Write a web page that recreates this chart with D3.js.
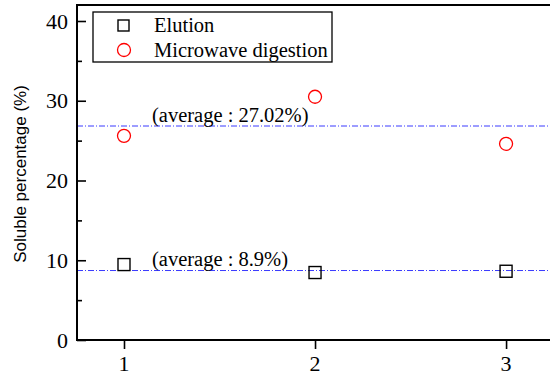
<!DOCTYPE html>
<html>
<head>
<meta charset="utf-8">
<script src="https://cdn.jsdelivr.net/npm/d3@7"></script>
<style>
  body { margin: 0; background: #fff; }
  svg { display: block; }
  .tick-label { font-family: "Liberation Serif", "Times New Roman", serif; font-size: 22px; fill: #000; }
  .legend-text, .avg-text { font-family: "Liberation Serif", "Times New Roman", serif; font-size: 20.5px; fill: #000; }
  .y-title { font-family: "Liberation Sans", Arial, sans-serif; font-size: 17px; fill: #000; }
</style>
</head>
<body>
<svg id="chart" width="550" height="374"></svg>
<script>
const runs = [1, 2, 3];
const elution = [9.46, 8.46, 8.62];
const microwave = [25.6, 30.5, 24.6];
const averages = [
  { value: 27.02, label: "(average : 27.02%)" },
  { value: 8.9, label: "(average : 8.9%)" },
];
const yTicks = [0, 10, 20, 30, 40];
const yMinor = [5, 15, 25, 35];
const xTicks = [1, 2, 3];

const svg = d3.select("#chart");
const margin = { left: 77, top: 5, right: 0, bottom: 34 };
const width = 550;
const height = 374;

const x = d3.scaleLinear().domain([0.754, 3.23]).range([margin.left, width]);
const y = d3.scaleLinear().domain([0, 42]).range([height - margin.bottom, height - margin.bottom - 42 * 7.975]);

const plot = svg.append("g");

// average lines with their labels
averages.forEach((a) => {
  plot.append("line")
    .attr("x1", margin.left).attr("x2", width)
    .attr("y1", y(a.value) + 1.5).attr("y2", y(a.value) + 1.5)
    .attr("stroke", "#3a3aff").attr("stroke-width", 1)
    .attr("stroke-dasharray", "6,2,1,2");
  plot.append("text")
    .attr("class", "avg-text")
    .attr("x", 152).attr("y", y(a.value) - 3)
    .text(a.label);
});

// axes: y ticks point inward, x ticks outward
const yAxis = d3.axisLeft(y).tickValues(yTicks).tickSize(-9).tickFormat("");
const yAxisMinor = d3.axisLeft(y).tickValues(yMinor).tickSize(-5).tickFormat("");
const xAxis = d3.axisBottom(x).tickValues(xTicks).tickSize(9).tickFormat("");

svg.append("g").attr("transform", `translate(${margin.left},0)`).call(yAxis);
svg.append("g").attr("transform", `translate(${margin.left},0)`).call(yAxisMinor);
svg.append("g").attr("transform", `translate(0,${y(0)})`).call(xAxis);
svg.selectAll(".domain").remove();
svg.selectAll(".tick line").attr("stroke", "#000").attr("stroke-width", 1.6);

// frame
svg.append("line").attr("x1", margin.left).attr("x2", margin.left)
  .attr("y1", margin.top).attr("y2", y(0) + 1)
  .attr("stroke", "#000").attr("stroke-width", 2);
svg.append("line").attr("x1", margin.left - 1).attr("x2", width)
  .attr("y1", y(0)).attr("y2", y(0))
  .attr("stroke", "#000").attr("stroke-width", 2);
svg.append("line").attr("x1", margin.left - 1).attr("x2", width)
  .attr("y1", margin.top).attr("y2", margin.top)
  .attr("stroke", "#000").attr("stroke-width", 2);

// tick labels
yTicks.forEach((t) => {
  svg.append("text").attr("class", "tick-label")
    .attr("x", 68).attr("y", y(t) + 7.5)
    .attr("text-anchor", "end").text(t);
});
xTicks.forEach((t) => {
  svg.append("text").attr("class", "tick-label")
    .attr("x", x(t)).attr("y", y(0) + 31)
    .attr("text-anchor", "middle").text(t);
});

// y title
svg.append("text").attr("class", "y-title")
  .attr("transform", `translate(26,174) rotate(-90)`)
  .attr("text-anchor", "middle")
  .text("Soluble percentage (%)");

// markers
svg.append("g").selectAll("rect").data(elution).join("rect")
  .attr("x", (d, i) => x(runs[i]) - 6).attr("y", (d) => y(d) - 6)
  .attr("width", 12).attr("height", 12)
  .attr("fill", "none").attr("stroke", "#000").attr("stroke-width", 1.4);
svg.append("g").selectAll("circle").data(microwave).join("circle")
  .attr("cx", (d, i) => x(runs[i])).attr("cy", (d) => y(d))
  .attr("r", 6.5)
  .attr("fill", "none").attr("stroke", "#f00").attr("stroke-width", 1.3);

// legend
const lg = svg.append("g");
lg.append("rect").attr("x", 93).attr("y", 12).attr("width", 239).attr("height", 50)
  .attr("fill", "#fff").attr("stroke", "#000").attr("stroke-width", 1.3);
lg.append("rect").attr("x", 118).attr("y", 20).attr("width", 11).attr("height", 11)
  .attr("fill", "none").attr("stroke", "#000").attr("stroke-width", 1.4);
lg.append("circle").attr("cx", 124).attr("cy", 50).attr("r", 6.5)
  .attr("fill", "none").attr("stroke", "#f00").attr("stroke-width", 1.3);
lg.append("text").attr("class", "legend-text").attr("x", 154).attr("y", 32).text("Elution");
lg.append("text").attr("class", "legend-text").attr("x", 154).attr("y", 57).text("Microwave digestion");
</script>
</body>
</html>
